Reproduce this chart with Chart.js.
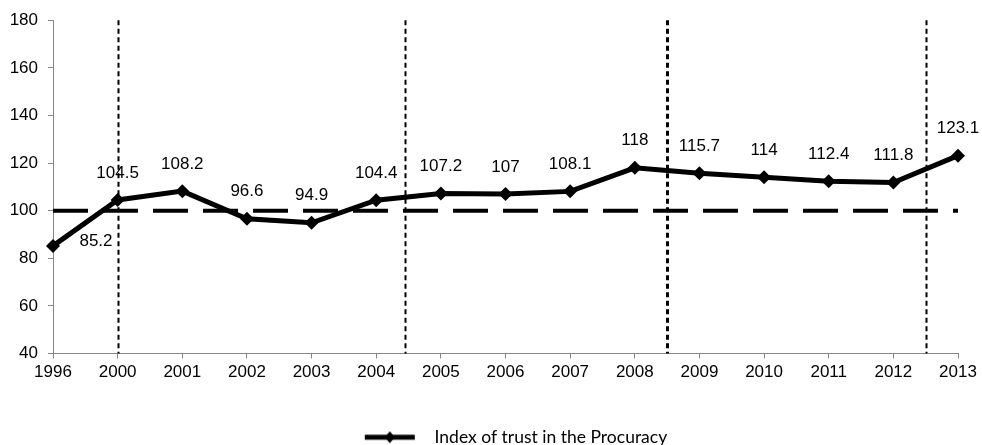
<!DOCTYPE html>
<html lang="en">
<head>
    <meta charset="UTF-8">
    <title>Index of trust in the Procuracy</title>
    <script src="https://cdn.jsdelivr.net/npm/chart.js"></script>
    <style>
        html, body {
            margin: 0;
            padding: 0;
            background: #fff;
        }
        .wrap {
            width: 982px;
            height: 445px;
            position: relative;
        }
    </style>
</head>
<body>
    <div class="wrap">
        <canvas id="trustChart"></canvas>
    </div>

    <script>
        // data
        const years = ['1996', '2000', '2001', '2002', '2003', '2004', '2005', '2006', '2007', '2008', '2009', '2010', '2011', '2012', '2013'];
        const trustIndex = [85.2, 104.5, 108.2, 96.6, 94.9, 104.4, 107.2, 107, 108.1, 118, 115.7, 114, 112.4, 111.8, 123.1];
        const baseline = years.map(() => 100);
        // period separators, in category units (index along the x axis)
        const periodBreaks = [1, 5.45, 9.5, 13.5];
        const yTicks = [40, 60, 80, 100, 120, 140, 160, 180];

        const tickFont = { family: '"Liberation Sans", Arial, sans-serif', size: 17 };

        // legend swatch: line with a diamond in the middle
        // (empty room on the left pushes the legend item right like in the original)
        function legendSwatch() {
            const lead = 74;
            const c = document.createElement('canvas');
            c.width = lead + 61; c.height = 16;
            const g = c.getContext('2d');
            g.strokeStyle = '#000';
            g.lineWidth = 5;
            g.beginPath(); g.moveTo(lead, 8); g.lineTo(lead + 50, 8); g.stroke();
            g.fillStyle = '#000';
            const cx = lead + 25;
            g.beginPath(); g.moveTo(cx, 2); g.lineTo(cx + 5, 8); g.lineTo(cx, 14); g.lineTo(cx - 5, 8); g.closePath(); g.fill();
            return c;
        }

        const periodLines = {
            id: 'periodLines',
            afterDatasetsDraw(chart) {
                const { ctx, chartArea, scales } = chart;
                ctx.save();
                ctx.strokeStyle = '#000';
                periodBreaks.forEach((p, i) => {
                    const x = Math.round(scales.x.getPixelForValue(p)) + 0.5;
                    ctx.lineWidth = i === 2 ? 3 : 2;
                    ctx.setLineDash([5, 3.5]);
                    ctx.beginPath();
                    ctx.moveTo(x, chartArea.top);
                    ctx.lineTo(x, chartArea.bottom);
                    ctx.stroke();
                });
                ctx.restore();
            }
        };

        const valueLabels = {
            id: 'valueLabels',
            afterDatasetsDraw(chart) {
                const { ctx } = chart;
                const meta = chart.getDatasetMeta(0);
                ctx.save();
                ctx.font = '17px "Liberation Sans", Arial, sans-serif';
                ctx.fillStyle = '#000';
                ctx.textAlign = 'center';
                ctx.textBaseline = 'middle';
                meta.data.forEach((pt, i) => {
                    let dx = 0, dy = -27;
                    if (i === 0) { dx = 43; dy = -5; }
                    ctx.fillText(String(trustIndex[i]), pt.x + dx, pt.y + dy);
                });
                ctx.restore();
            }
        };

        new Chart(document.getElementById('trustChart'), {
            type: 'line',
            data: {
                labels: years,
                datasets: [
                    {
                        label: 'Index of trust in the Procuracy',
                        data: trustIndex,
                        borderColor: '#000',
                        backgroundColor: '#000',
                        borderWidth: 5,
                        pointStyle: 'rectRot',
                        pointRadius: 7,
                        pointBackgroundColor: '#000',
                        pointBorderWidth: 0,
                        tension: 0,
                        order: 0
                    },
                    {
                        label: 'base',
                        data: baseline,
                        borderColor: '#000',
                        borderWidth: 4,
                        borderDash: [35, 15],
                        pointRadius: 0,
                        fill: false,
                        order: 1
                    }
                ]
            },
            options: {
                responsive: true,
                maintainAspectRatio: false,
                animation: false,
                layout: { padding: { top: 18, right: 24, left: 0, bottom: -11 } },
                scales: {
                    x: {
                        offset: false,
                        grid: { display: true, drawOnChartArea: false, drawTicks: true, tickLength: 5, color: '#868686' },
                        border: { color: '#868686', width: 1 },
                        ticks: { color: '#000', font: tickFont, padding: 4, maxRotation: 0, autoSkip: false },
                        afterFit(scale) { scale.height = 72; }
                    },
                    y: {
                        min: 40,
                        max: 180,
                        afterBuildTicks(scale) { scale.ticks = yTicks.map(v => ({ value: v })); },
                        grid: { display: true, drawOnChartArea: false, drawTicks: true, tickLength: 5, color: '#868686' },
                        border: { color: '#868686', width: 1 },
                        ticks: { color: '#000', font: tickFont, padding: 10 },
                        afterFit(scale) { scale.width = 53; }
                    }
                },
                plugins: {
                    tooltip: { enabled: false },
                    legend: {
                        position: 'bottom',
                        labels: {
                            usePointStyle: true,
                            pointStyleWidth: 135,
                            padding: 3,
                            color: '#000',
                            font: { family: 'Lato, "Open Sans", sans-serif', size: 17.5 },
                            generateLabels(chart) {
                                return [{
                                    text: chart.data.datasets[0].label,
                                    pointStyle: legendSwatch(),
                                    datasetIndex: 0,
                                    fontColor: '#000',
                                    lineWidth: 0,
                                    hidden: false
                                }];
                            }
                        }
                    }
                }
            },
            plugins: [periodLines, valueLabels]
        });
    </script>
</body>
</html>
